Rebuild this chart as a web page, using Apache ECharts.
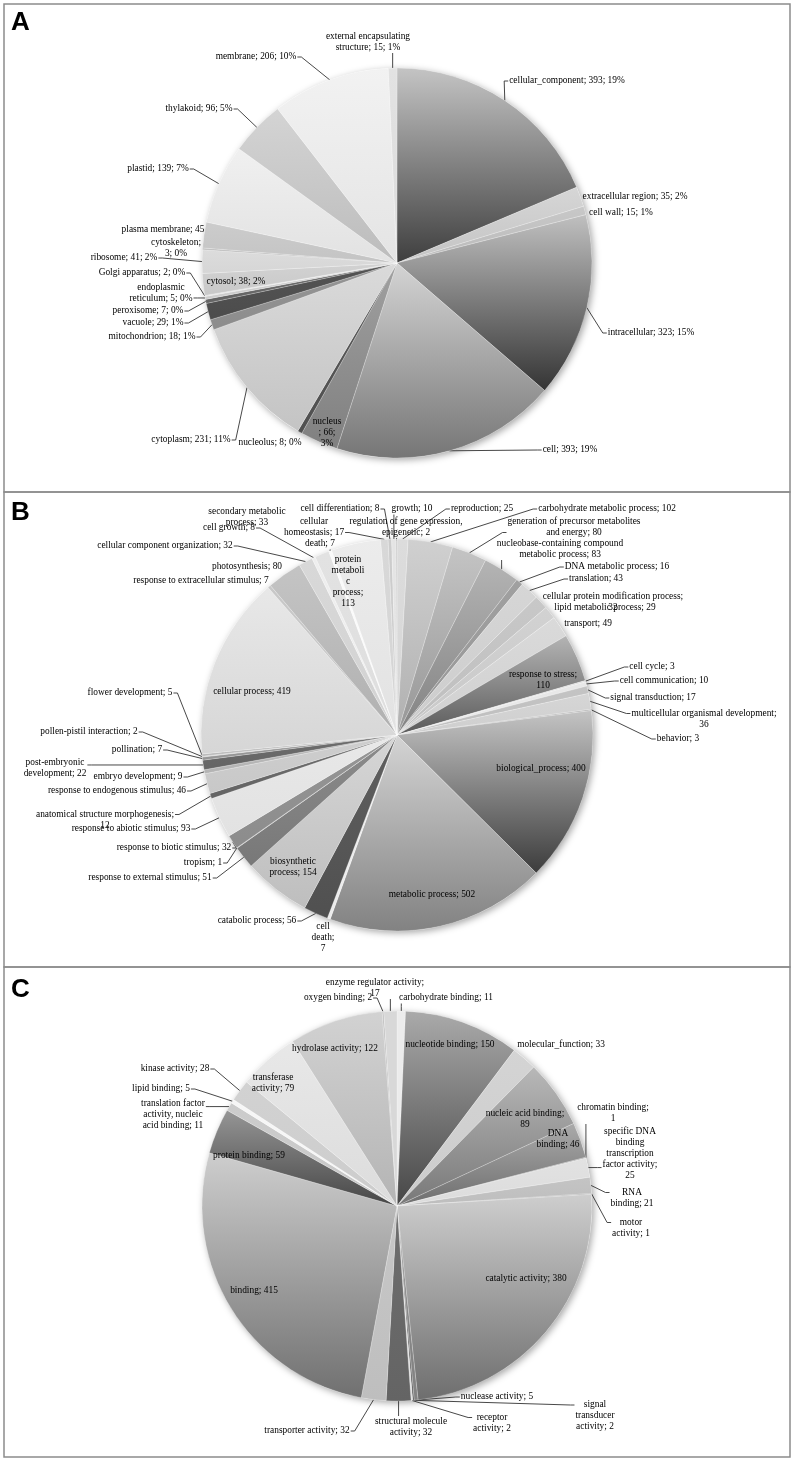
<!DOCTYPE html>
<html><head><meta charset="utf-8">
<script src="https://cdn.jsdelivr.net/npm/echarts@6/dist/echarts.min.js"></script>
<style>html,body{margin:0;padding:0;background:#fff}#c{width:794px;height:1461px}</style>
</head><body><div id="c"></div>
<script>
// ---------- DATA ----------
const catA = ['cellular_component','extracellular region','cell wall','intracellular','cell','nucleus','nucleolus','cytoplasm','mitochondrion','vacuole','peroxisome','endoplasmic reticulum','Golgi apparatus','cytosol','ribosome','cytoskeleton','plasma membrane','plastid','thylakoid','membrane','external encapsulating structure'];
const valA = [393,35,15,323,393,66,8,231,18,29,7,5,2,38,41,3,45,139,96,206,15];

const catB = ['reproduction','carbohydrate metabolic process','generation of precursor metabolites and energy','nucleobase-containing compound metabolic process','DNA metabolic process','translation','cellular protein modification process','lipid metabolic process','transport','response to stress','cell cycle','cell communication','signal transduction','multicellular organismal development','behavior','biological_process','metabolic process','cell death','catabolic process','biosynthetic process','response to external stimulus','tropism','response to biotic stimulus','response to abiotic stimulus','anatomical structure morphogenesis','response to endogenous stimulus','embryo development','post-embryonic development','pollination','pollen-pistil interaction','flower development','cellular process','response to extracellular stimulus','photosynthesis','cellular component organization','cell growth','secondary metabolic process','death','protein metabolic process','cellular homeostasis','cell differentiation','growth','regulation of gene expression, epigenetic'];
const valB = [25,102,80,83,16,43,32,29,49,110,3,10,17,36,3,400,502,7,56,154,51,1,32,93,12,46,9,22,7,2,5,419,7,80,32,8,33,7,113,17,8,10,2];

const catC = ['carbohydrate binding','nucleotide binding','molecular_function','nucleic acid binding','DNA binding','chromatin binding','specific DNA binding transcription factor activity','RNA binding','motor activity','catalytic activity','nuclease activity','signal transducer activity','receptor activity','structural molecule activity','transporter activity','binding','protein binding','translation factor activity, nucleic acid binding','lipid binding','kinase activity','transferase activity','hydrolase activity','oxygen binding','enzyme regulator activity'];
const valC = [11,150,33,89,46,1,25,21,1,380,5,2,2,32,32,415,59,11,5,28,79,122,2,17];

// ---------- STYLE (gray levels: top, bottom of each slice gradient) ----------
const shadeA = [[196,62],[214,196],[200,186],[192,52],[212,118],[160,128],[90,80],[218,196],[150,140],[84,76],[108,100],[208,204],[228,224],[210,200],[220,214],[190,186],[204,196],[240,226],[212,188],[242,228],[226,220]];
const shadeB = [[220,214],[208,176],[196,150],[180,130],[160,150],[214,204],[200,190],[210,200],[218,208],[180,90],[220,220],[232,232],[196,190],[214,206],[180,180],[196,60],[212,130],[236,236],[96,80],[214,190],[140,120],[170,170],[150,140],[232,226],[110,100],[206,200],[186,180],[110,100],[150,150],[204,204],[186,186],[232,214],[200,200],[196,176],[216,210],[238,238],[226,222],[250,250],[236,226],[216,212],[204,204],[228,228],[190,190]];
const shadeC = [[236,236],[170,70],[212,204],[184,120],[170,110],[140,140],[226,220],[196,190],[150,150],[206,110],[140,130],[90,90],[220,220],[110,100],[200,190],[206,112],[150,70],[204,200],[246,246],[210,204],[232,220],[210,180],[190,190],[216,216]];

// ---------- LABEL TEXT TEMPLATES ----------
const tplA = {
  'external encapsulating structure': 'external encapsulating\nstructure; {v}; {p}%',
  'cytoskeleton': 'cytoskeleton;\n{v}; {p}%',
  'endoplasmic reticulum': 'endoplasmic\nreticulum; {v}; {p}%',
  'nucleus': 'nucleus\n; {v};\n{p}%',
  'plasma membrane': 'plasma membrane; {v}'
};
const tplB = {
  'secondary metabolic process': 'secondary metabolic\nprocess; {v}',
  'cellular homeostasis': 'cellular\nhomeostasis; {v}',
  'protein metabolic process': 'protein\nmetaboli\nc\nprocess;\n{v}',
  'regulation of gene expression, epigenetic': 'regulation of gene expression,\nepigenetic; {v}',
  'generation of precursor metabolites and energy': 'generation of precursor metabolites\nand energy; {v}',
  'nucleobase-containing compound metabolic process': 'nucleobase-containing compound\nmetabolic process; {v}',
  'cellular protein modification process': 'cellular protein modification process;\n{v}',
  'anatomical structure morphogenesis': 'anatomical structure morphogenesis;\n{v}',
  'multicellular organismal development': 'multicellular organismal development;\n{v}',
  'post-embryonic development': 'post-embryonic\ndevelopment; {v}',
  'cell death': 'cell\ndeath;\n{v}',
  'biosynthetic process': 'biosynthetic\nprocess; {v}',
  'response to stress': 'response to stress;\n{v}'
};
const tplC = {
  'enzyme regulator activity': 'enzyme regulator activity;\n{v}',
  'nucleic acid binding': 'nucleic acid binding;\n{v}',
  'chromatin binding': 'chromatin binding;\n{v}',
  'DNA binding': 'DNA\nbinding; {v}',
  'specific DNA binding transcription factor activity': 'specific DNA\nbinding\ntranscription\nfactor activity;\n{v}',
  'RNA binding': 'RNA\nbinding; {v}',
  'motor activity': 'motor\nactivity; {v}',
  'signal transducer activity': 'signal\ntransducer\nactivity; {v}',
  'receptor activity': 'receptor\nactivity; {v}',
  'structural molecule activity': 'structural molecule\nactivity; {v}',
  'translation factor activity, nucleic acid binding': 'translation factor\nactivity, nucleic\nacid binding; {v}',
  'transferase activity': 'transferase\nactivity; {v}'
};

// ---------- LABEL PLACEMENT (text centres) ----------
const posA = {
  'cellular_component':[567,81],'extracellular region':[635,197],'cell wall':[621,213],'intracellular':[651,333],
  'cell':[570,450],'nucleus':[327,433],'nucleolus':[270,443],'cytoplasm':[191,440],'mitochondrion':[152,337],
  'vacuole':[153,323],'peroxisome':[148,311],'endoplasmic reticulum':[161,293],'Golgi apparatus':[142,273],
  'cytosol':[236,282],'ribosome':[124,258],'cytoskeleton':[176,248],'plasma membrane':[163,230],'plastid':[158,169],
  'thylakoid':[199,109],'membrane':[256,57],'external encapsulating structure':[368,42]
};
const posB = {
  'reproduction':[482,509],'carbohydrate metabolic process':[607,509],'generation of precursor metabolites and energy':[574,527],
  'nucleobase-containing compound metabolic process':[560,549],'DNA metabolic process':[617,567],'translation':[596,579],
  'cellular protein modification process':[613,602],'lipid metabolic process':[605,608],'transport':[588,624],
  'response to stress':[543,680],'cell cycle':[652,667],'cell communication':[664,681],'signal transduction':[653,698],
  'multicellular organismal development':[704,719],'behavior':[678,739],'biological_process':[541,769],
  'metabolic process':[432,895],'cell death':[323,938],'catabolic process':[257,921],'biosynthetic process':[293,867],
  'response to external stimulus':[150,878],'tropism':[203,863],'response to biotic stimulus':[174,848],
  'response to abiotic stimulus':[131,829],'anatomical structure morphogenesis':[105,820],
  'response to endogenous stimulus':[117,791],'embryo development':[138,777],'post-embryonic development':[55,768],
  'pollination':[137,750],'pollen-pistil interaction':[89,732],'flower development':[130,693],'cellular process':[252,692],
  'response to extracellular stimulus':[201,581],'photosynthesis':[247,567],'cellular component organization':[165,546],
  'cell growth':[229,528],'secondary metabolic process':[247,517],'death':[320,544],'protein metabolic process':[348,582],
  'cellular homeostasis':[314,527],'cell differentiation':[340,509],'growth':[412,509],
  'regulation of gene expression, epigenetic':[406,527]
};
const posC = {
  'carbohydrate binding':[446,998],'nucleotide binding':[450,1045],'molecular_function':[561,1045],
  'nucleic acid binding':[525,1119],'DNA binding':[558,1139],'chromatin binding':[613,1113],
  'specific DNA binding transcription factor activity':[630,1154],'RNA binding':[632,1198],'motor activity':[631,1228],
  'catalytic activity':[526,1279],'nuclease activity':[497,1397],'signal transducer activity':[595,1416],
  'receptor activity':[492,1423],'structural molecule activity':[411,1427],'transporter activity':[307,1431],
  'binding':[254,1291],'protein binding':[249,1156],'translation factor activity, nucleic acid binding':[173,1115],
  'lipid binding':[161,1089],'kinase activity':[175,1069],'transferase activity':[273,1083],'hydrolase activity':[335,1049],
  'oxygen binding':[338,998],'enzyme regulator activity':[375,988]
};
const noLineA = ['extracellular region','cell wall','nucleus','nucleolus','cytosol','cytoskeleton','plasma membrane'];
const noLineB = ['cellular protein modification process','lipid metabolic process','transport','response to stress','biological_process','metabolic process','cell death','biosynthetic process','cellular process','response to extracellular stimulus','photosynthesis','secondary metabolic process','protein metabolic process'];
const noLineC = ['nucleotide binding','molecular_function','nucleic acid binding','DNA binding','catalytic activity','binding','protein binding','transferase activity','hydrolase activity'];

// ---------- HELPERS ----------
function g(v){ const h = v.toString(16).padStart(2,'0'); return '#'+h+h+h; }
function grad(p){ return {type:'linear',x:0,y:0,x2:0,y2:1,colorStops:[{offset:0,color:g(p[0])},{offset:1,color:g(p[1])}]}; }
function clamp(v,a,b){ return a>b ? (a+b)/2 : Math.max(a, Math.min(b, v)); }
function fmt(def, tpl){
  return function(p){
    const t = tpl[p.name] || def;
    return t.replace('{n}', p.name).replace('{v}', p.value).replace('{p}', Math.round(p.percent));
  };
}
function makeLayout(cats, pos){
  return function(p){
    const q = pos[cats[p.dataIndex]];
    if (!q) return {};
    const res = {x:q[0], y:q[1], align:'center', verticalAlign:'middle', hideOverlap:false};
    const pts = p.labelLinePoints;
    if (pts && pts.length){
      const a = pts[0];
      const w = p.labelRect.width, h = p.labelRect.height;
      const l = q[0]-w/2, r = q[0]+w/2, t = q[1]-h/2, b = q[1]+h/2;
      let e, k;
      if (a[0] < l){ const y = clamp(a[1], t+5.5, b-5.5); e=[l-1,y]; k=[l-5,y]; }
      else if (a[0] > r){ const y = clamp(a[1], t+5.5, b-5.5); e=[r+1,y]; k=[r+5,y]; }
      else if (a[1] > b){ e=[a[0],b]; k=[a[0],b+3]; }
      else { e=[a[0],t]; k=[a[0],t-3]; }
      res.labelLinePoints = [a, k, e];
    }
    return res;
  };
}
const FONT = '"Liberation Serif","Times New Roman",serif';
function buildPie(cats, vals, shades, center, radius, def, tpl, pos, noLine){
  return {
    type:'pie', center:center, radius:radius, startAngle:90, clockwise:true,
    avoidLabelOverlap:false, percentPrecision:4, z:2,
    data: cats.map((n,i)=>({name:n, value:vals[i], itemStyle:{color:grad(shades[i])},
                            labelLine:{show: noLine.indexOf(n) < 0}})),
    label:{show:true, position:'outside', fontFamily:FONT, fontSize:9.4, lineHeight:11, color:'#000',
           textBorderWidth:0, formatter: fmt(def, tpl)},
    labelLine:{show:true, length:6, length2:4, smooth:false, lineStyle:{color:'#333', width:0.9}},
    itemStyle:{borderColor:'rgba(255,255,255,0.55)', borderWidth:0.4},
    emphasis:{disabled:true},
    labelLayout: makeLayout(cats, pos)
  };
}
function backPie(center, radius){
  return {
    type:'pie', center:center, radius:radius, silent:true, z:1,
    data:[{value:1, name:'_bg'}], label:{show:false}, labelLine:{show:false},
    itemStyle:{color:'#ffffff', shadowBlur:7, shadowOffsetX:2, shadowOffsetY:2, shadowColor:'rgba(0,0,0,0.35)'},
    emphasis:{disabled:true}
  };
}

const chart = echarts.init(document.getElementById('c'), null, {renderer:'canvas'});
const frame = {stroke:'#8c8c8c', lineWidth:1.5, fill:'none'};
const letter = 'bold 26px "Liberation Sans", Arial, sans-serif';
chart.setOption({
  animation:false,
  backgroundColor:'#ffffff',
  graphic:[
    {type:'rect', shape:{x:4,y:4,width:786,height:488}, style:frame, silent:true},
    {type:'rect', shape:{x:4,y:492,width:786,height:475}, style:frame, silent:true},
    {type:'rect', shape:{x:4,y:967,width:786,height:490}, style:frame, silent:true},
    {type:'text', style:{text:'A', x:11, y:10, font:letter, fill:'#000'}, silent:true},
    {type:'text', style:{text:'B', x:11, y:500, font:letter, fill:'#000'}, silent:true},
    {type:'text', style:{text:'C', x:11, y:977, font:letter, fill:'#000'}, silent:true}
  ],
  series:[
    backPie([397,263],195),
    buildPie(catA, valA, shadeA, [397,263], 195, '{n}; {v}; {p}%', tplA, posA, noLineA),
    backPie([397,735],196),
    buildPie(catB, valB, shadeB, [397,735], 196, '{n}; {v}', tplB, posB, noLineB),
    backPie([397,1206],195),
    buildPie(catC, valC, shadeC, [397,1206], 195, '{n}; {v}', tplC, posC, noLineC)
  ]
});
</script>
</body></html>
